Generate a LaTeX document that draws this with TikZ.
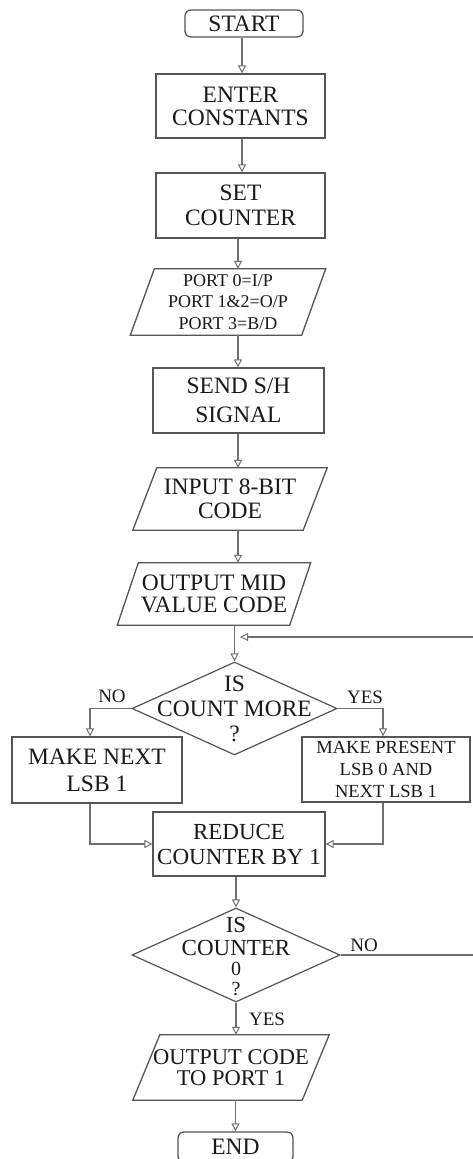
\documentclass[tikz,border=0pt]{standalone}
\usepackage{fontspec}
\setmainfont{Liberation Serif}
\usetikzlibrary{shapes.geometric,arrows.meta,calc}
\definecolor{ln}{HTML}{707070}
\definecolor{bd}{HTML}{555555}
\definecolor{tx}{HTML}{1A1A1A}
\newcommand{\fz}[2]{\fontsize{#1}{#2}\selectfont}
\newcommand{\para}[2]{\draw[draw=bd, line width=1.3pt] ([xshift=#2]#1.north west) -- ([xshift=#2]#1.north east) -- ([xshift=-#2]#1.south east) -- ([xshift=-#2]#1.south west) -- cycle;}
\begin{document}
\begin{tikzpicture}[x=1pt,y=-1pt,
  box/.style={draw=bd, line width=1.3pt, inner sep=1pt, align=center, text=tx, font=\fz{23.5}{24}},
  term/.style={box, rounded corners=6pt},
  io/.style={inner sep=1pt, align=center, text=tx, font=\fz{23.5}{24}},
  dec/.style={diamond, draw=bd, line width=1.2pt, inner sep=0pt},
  txt/.style={align=center, text=tx, inner sep=0pt},
  lbl/.style={text=tx, inner sep=0pt, font=\fz{19}{20}},
  arr/.style={draw=ln, line width=1.6pt, -{Triangle[open, length=8pt, width=8pt, line width=1pt]}},
]
\useasboundingbox (0,0) rectangle (472,1159);
\fill[white] (0,0) rectangle (472,1159);

\coordinate (cA) at (242,0);
\coordinate (cB) at (238,0);

\node[term, minimum width=118pt, minimum height=27pt] (start) at (244,23.5) {START};
\node[box, minimum width=169pt, minimum height=64pt, font=\fz{23.5}{23}] (enter) at (240.5,106) {ENTER\\CONSTANTS};
\node[box, minimum width=169pt, minimum height=65pt, font=\fz{23.5}{25}] (set) at (240.5,205.5) {SET\\COUNTER};
\node[io, minimum width=171pt, minimum height=66pt, font=\fz{18}{21.5}] (port) at (228,302) {PORT 0=I/P\\PORT 1\&2=O/P\\PORT 3=B/D};
\para{port}{12pt}
\node[box, minimum width=171pt, minimum height=65pt, font=\fz{23.5}{29}] (send) at (238.5,400.5) {SEND S/H\\SIGNAL};
\node[io, minimum width=170pt, minimum height=62pt, font=\fz{23.5}{24}] (inp) at (230,499) {INPUT 8-BIT\\CODE};
\para{inp}{12pt}
\node[io, minimum width=172pt, minimum height=62pt, font=\fz{23.5}{22}] (out) at (214,594) {OUTPUT MID\\VALUE CODE};
\para{out}{10.5pt}

\node[dec, minimum width=205pt, minimum height=93pt] (d1) at (234.5,708.5) {};
\node[txt, font=\fz{23.5}{25}] (d1t) at (234.5,709) {IS\\COUNT MORE\\?};

\node[box, minimum width=170pt, minimum height=66pt, font=\fz{23.5}{27}] (mn) at (97,770) {MAKE NEXT\\LSB 1};
\node[box, minimum width=168pt, minimum height=65pt, font=\fz{18.5}{22}] (mp) at (386,769.5) {MAKE PRESENT\\LSB 0 AND\\NEXT LSB 1};

\node[box, minimum width=172pt, minimum height=64pt, font=\fz{23}{25}] (red) at (239,844) {REDUCE\\COUNTER BY 1};

\node[dec, minimum width=208pt, minimum height=94pt] (d2) at (236,955) {};
\node[txt, font=\fz{23}{23}] (d2t) at (236,957) {IS\\COUNTER\\[-3pt]{\fz{20}{20}0}\\[-3pt]{\fz{20}{20}?}};

\node[io, minimum width=169pt, minimum height=65pt, font=\fz{22.5}{21}] (oc) at (231,1067.5) {OUTPUT CODE\\TO PORT 1};
\para{oc}{13.5pt}
\node[term, minimum width=115pt, minimum height=30pt] (end) at (235.5,1147) {END};

\node[lbl] (no1) at (112,696) {NO};
\node[lbl] (yes1) at (365,697) {YES};
\node[lbl] (no2) at (364,945) {NO};
\node[lbl] (yes2) at (267,1019) {YES};

\coordinate (loopin) at (240,637);

\draw[arr] (start.south -| cA) -- (enter.north -| cA);
\draw[arr] (enter.south -| cA) -- (set.north -| cA);
\draw[arr] (set.south -| cB) -- (port.north -| cB);
\draw[arr] (port.south -| cB) -- (send.north -| cB);
\draw[arr] (send.south -| cB) -- (inp.north -| cB);
\draw[arr] (inp.south -| cB) -- (out.north -| cB);
\draw[arr] (out.south -| d1.north) -- (d1.north);
\draw[arr] (d1.west) -| ([xshift=-7pt]mn.north);
\draw[arr] (d1.east) -| ([xshift=-3pt]mp.north);
\draw[arr] ([xshift=-7pt]mn.south) |- (red.west);
\draw[arr] ([xshift=-3pt]mp.south) |- (red.east);
\draw[arr] (red.south -| d2.north) -- (d2.north);
\draw[arr] (d2.south) -- (oc.north -| d2.south);
\draw[arr] (oc.south -| end.north) -- (end.north);
\draw[arr] (d2.east) -- ++(142,0) |- (loopin);
\end{tikzpicture}
\end{document}
